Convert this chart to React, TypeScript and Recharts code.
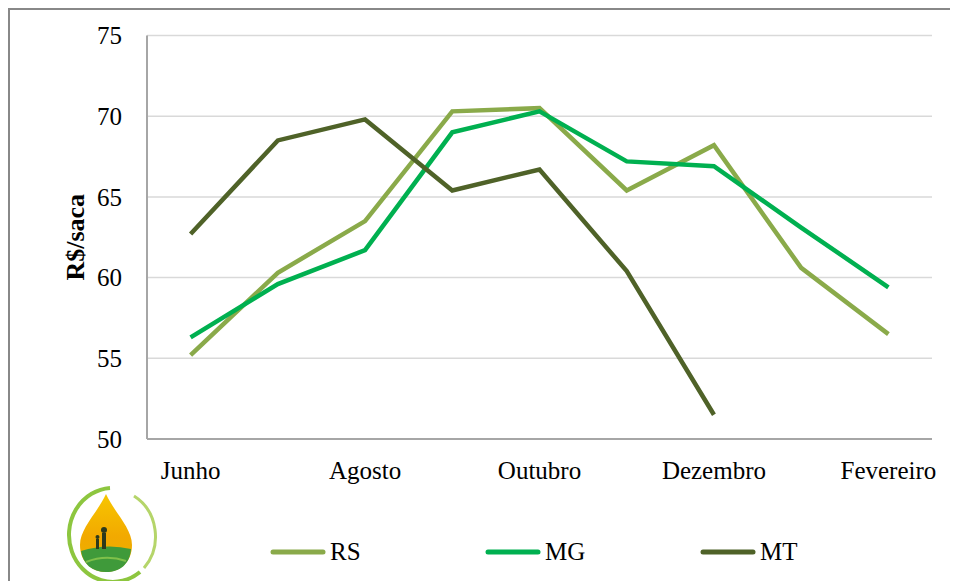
import { LineChart, Line, XAxis, YAxis, CartesianGrid, Legend } from 'recharts'

const months = ['Junho', 'Julho', 'Agosto', 'Setembro', 'Outubro', 'Novembro', 'Dezembro', 'Janeiro', 'Fevereiro']
const rs = [55.2, 60.3, 63.5, 70.3, 70.5, 65.4, 68.2, 60.6, 56.5]
const mg = [56.3, 59.6, 61.7, 69.0, 70.3, 67.2, 66.9, 63.1, 59.4]
const mt = [62.7, 68.5, 69.8, 65.4, 66.7, 60.4, 51.5, null, null]
const seriesNames = ['RS', 'MG', 'MT']
const yTicks = [50, 55, 60, 65, 70, 75]

const data = months.map((m, i) => ({ month: m, RS: rs[i], MG: mg[i], MT: mt[i] }))

const font = '"Liberation Serif", "Times New Roman", serif'

const LegendContent = (props: any) => {
  const items = [...(props.payload || [])].sort(
    (a: any, b: any) => seriesNames.indexOf(a.value) - seriesNames.indexOf(b.value)
  )
  return (
    <div style={{ display: 'flex', fontFamily: font, fontSize: 25, color: '#000' }}>
      {items.map((p: any) => (
        <div key={p.value} style={{ width: 215, display: 'flex', alignItems: 'center' }}>
          <svg width={56} height={10} style={{ marginRight: 4 }}>
            <line x1={3} y1={5} x2={53} y2={5} stroke={p.color} strokeWidth={5} strokeLinecap="round" />
          </svg>
          <span>{p.value}</span>
        </div>
      ))}
    </div>
  )
}

// rough stand-in for the logo in the bottom-left corner
const Logo = () => (
  <svg width={104} height={100} style={{ position: 'absolute', left: 46, top: 474 }}>
    <defs>
      <linearGradient id="drop" x1="0" y1="0" x2="0" y2="1">
        <stop offset="0%" stopColor="#f7c600" />
        <stop offset="55%" stopColor="#f2a900" />
        <stop offset="100%" stopColor="#e8b100" />
      </linearGradient>
    </defs>
    <path d="M 56 6 A 44 47 0 1 0 86 90" fill="none" stroke="#8dc63f" strokeWidth={4} />
    <path d="M 80 14 A 44 47 0 0 1 90 86" fill="none" stroke="#b5d56a" strokeWidth={3} />
    <path d="M 52 12 C 44 30, 26 46, 26 63 C 26 80, 38 90, 52 90 C 66 90, 78 80, 78 63 C 78 46, 60 30, 52 12 Z" fill="url(#drop)" />
    <path d="M 27 69 Q 52 61 77 67 C 76 82, 66 90, 52 90 C 38 90, 29 82, 27 69 Z" fill="#3f9a3a" />
    <path d="M 32 80 Q 52 72 72 79" fill="none" stroke="#7fc04a" strokeWidth={2} />
    <rect x={48} y={51} width={4} height={16} fill="#2c3a1c" />
    <circle cx={50} cy={48} r={3} fill="#2c3a1c" />
    <rect x={42} y={57} width={3} height={10} fill="#2c3a1c" />
    <circle cx={43.5} cy={55} r={2} fill="#2c3a1c" />
  </svg>
)

export default function App() {
  return (
    <div style={{ position: 'relative', width: 950, height: 573, background: '#fff' }}>
      <div
        style={{
          position: 'absolute',
          left: 0,
          top: 0,
          width: 950,
          height: 573,
          borderTop: '2px solid #888',
          borderLeft: '2px solid #888',
          boxSizing: 'border-box',
        }}
      />
      <LineChart
        width={950}
        height={573}
        data={data}
        margin={{ top: 27.5, right: 26, left: 0, bottom: 62 }}
        style={{ position: 'absolute', left: 0, top: 0 }}
      >
        <CartesianGrid vertical={false} stroke="#d9d9d9" strokeWidth={1.5} />
        <XAxis
          dataKey="month"
          interval={1}
          padding={{ left: 43.6, right: 43.6 }}
          height={50}
          tickSize={0}
          tickMargin={22}
          axisLine={{ stroke: '#a6a6a6', strokeWidth: 2 }}
          tick={{ fill: '#000', fontSize: 25, fontFamily: font }}
        />
        <YAxis
          domain={[50, 75]}
          ticks={yTicks}
          width={139}
          tickSize={0}
          tickMargin={25}
          axisLine={{ stroke: '#a6a6a6', strokeWidth: 2 }}
          tick={{ fill: '#000', fontSize: 25, fontFamily: font }}
          label={{
            value: 'R$/saca',
            angle: -90,
            position: 'center',
            dx: -3,
            style: { fill: '#000', fontSize: 26, fontWeight: 'bold', fontFamily: font },
          }}
        />
        <Line dataKey="RS" stroke="#8aaa4a" strokeWidth={4.5} dot={false} isAnimationActive={false} />
        <Line dataKey="MG" stroke="#00b050" strokeWidth={4.5} dot={false} isAnimationActive={false} />
        <Line dataKey="MT" stroke="#4f6228" strokeWidth={4.5} dot={false} isAnimationActive={false} />
        <Legend
          content={<LegendContent />}
          itemSorter={null}
          wrapperStyle={{ left: 262, top: 530, width: 700, height: 30 }}
        />
      </LineChart>
      <Logo />
    </div>
  )
}
